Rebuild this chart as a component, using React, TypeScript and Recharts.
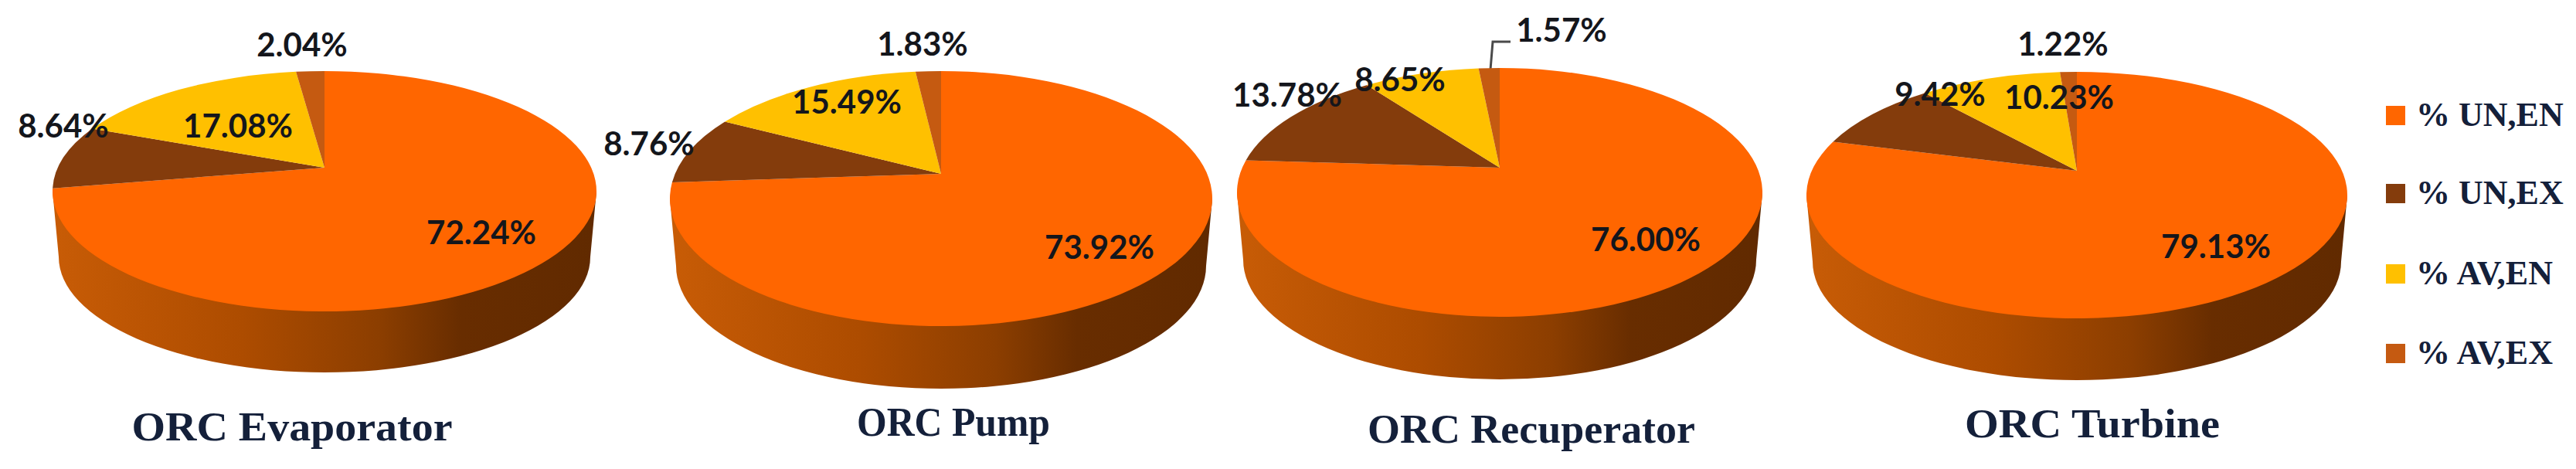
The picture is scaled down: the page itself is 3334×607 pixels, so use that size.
import { PieChart, Pie, Legend } from 'recharts';

const categories = ['% UN,EN', '% UN,EX', '% AV,EN', '% AV,EX'];
const evaporatorValues = [72.24, 8.64, 17.08, 2.04];
const pumpValues = [73.92, 8.76, 15.49, 1.83];
const recuperatorValues = [76.0, 13.78, 8.65, 1.57];
const turbineValues = [79.13, 9.42, 10.23, 1.22];

const sliceColors = ['#FF6600', '#843C0C', '#FFC000', '#C55A11'];
const legendTops = [137, 238, 342, 445];

// apex = where the slices meet, rimTop/rimBottom = top face extent, wallBottom = lowest point of the side
const pies = [
  {
    id: 'evaporator', title: 'ORC Evaporator', values: evaporatorValues,
    apexX: 420, apexY: 217, rx: 352, rimTop: 92, rimBottom: 403, wallBottom: 482,
    titleX: 378, titleY: 570, titleWidth: 415,
    labels: [[623, 300], [82, 162], [308, 162], [391, 57]],
  },
  {
    id: 'pump', title: 'ORC Pump', values: pumpValues,
    apexX: 1218, apexY: 225, rx: 351, rimTop: 92, rimBottom: 422, wallBottom: 503,
    titleX: 1234, titleY: 564, titleWidth: 250,
    labels: [[1423, 319], [840, 185], [1096, 131], [1194, 56]],
  },
  {
    id: 'recuperator', title: 'ORC Recuperator', values: recuperatorValues,
    apexX: 1941, apexY: 217, rx: 340, rimTop: 88, rimBottom: 410, wallBottom: 491,
    titleX: 1982, titleY: 573, titleWidth: 424,
    labels: [[2130, 309], [1666, 122], [1812, 102], [2021, 38]],
  },
  {
    id: 'turbine', title: 'ORC Turbine', values: turbineValues,
    apexX: 2688, apexY: 221, rx: 350, rimTop: 93, rimBottom: 412, wallBottom: 492,
    titleX: 2708, titleY: 566, titleWidth: 330,
    labels: [[2868, 318], [2511, 121], [2665, 125], [2670, 56]],
  },
];

const LABEL_FONT = 'Lato, sans-serif';
const SERIF_FONT = '"Liberation Serif", serif';

// perspective of a disc seen from above: the apex sits above the ellipse centre
const discOf = (pie: any) => {
  const up = pie.apexY - pie.rimTop;
  const down = pie.rimBottom - pie.apexY;
  const p = (down - up) / (down + up);
  return {
    p,
    ry: (up + down) / 2,
    ey: pie.apexY + (down - up) / 2,
    a: pie.rx * Math.sqrt(1 - p * p),
    b: up * (1 + p),
  };
};

const renderSlice = (pie: any) => (props: any) => {
  const { cx, cy, startAngle, endAngle, fill } = props;
  const d = discOf(pie);
  const rim = (angle: number) => {
    const t = ((90 - angle) * Math.PI) / 180;
    const u = Math.sin(t);
    const v = -Math.cos(t);
    const w = 1 - d.p * v;
    return [cx + (d.a * u) / w, cy + (d.b * v) / w];
  };
  const [x1, y1] = rim(startAngle);
  const [x2, y2] = rim(endAngle);
  const t1 = Math.atan2((y1 - d.ey) / d.ry, (x1 - cx) / pie.rx);
  const t2 = Math.atan2((y2 - d.ey) / d.ry, (x2 - cx) / pie.rx);
  const sweep = (t2 - t1 + Math.PI * 2) % (Math.PI * 2);
  const large = sweep > Math.PI ? 1 : 0;
  return (
    <path
      d={`M${cx},${cy}L${x1},${y1}A${pie.rx},${d.ry} 0 ${large} 1 ${x2},${y2}Z`}
      fill={fill}
    />
  );
};

const renderLabel = (pie: any) => (props: any) => {
  const { index, value } = props;
  const [x, y] = pie.labels[index];
  return (
    <text
      key={index}
      x={x}
      y={y}
      textAnchor="middle"
      dominantBaseline="central"
      fontFamily={LABEL_FONT}
      fontWeight={700}
      fontSize={42}
      fill="#14161c"
    >
      {`${value.toFixed(2)}%`}
    </text>
  );
};

const wallPath = (pie: any) => {
  const d = discOf(pie);
  const rx2 = pie.rx - 8;
  const ry2 = d.ry - 6;
  const ey2 = pie.wallBottom - ry2;
  const cx = pie.apexX;
  return `M${cx - pie.rx},${d.ey}L${cx - rx2},${ey2}A${rx2},${ry2} 0 0 0 ${cx + rx2},${ey2}L${cx + pie.rx},${d.ey}Z`;
};

const renderLegend = () => (
  <div style={{ position: 'relative', width: 3334, height: 607 }}>
    {categories.map((name, i) => (
      <div key={name}>
        <div
          style={{
            position: 'absolute',
            left: 3088,
            top: legendTops[i],
            width: 25,
            height: 25,
            background: sliceColors[i],
          }}
        />
        <div
          style={{
            position: 'absolute',
            left: 3127,
            top: legendTops[i] - 14,
            lineHeight: '52px',
            fontFamily: SERIF_FONT,
            fontWeight: 700,
            fontSize: 44,
            color: '#14203a',
            whiteSpace: 'nowrap',
          }}
        >
          {name}
        </div>
      </div>
    ))}
  </div>
);

export default function App() {
  return (
    <div style={{ position: 'absolute', left: 0, top: 0, width: 3334, height: 607, background: '#fff' }}>
      <PieChart width={3334} height={607} margin={{ top: 0, right: 0, bottom: 0, left: 0 }}>
        <defs>
          {pies.map((pie) => (
            <linearGradient
              key={pie.id}
              id={`wall-${pie.id}`}
              gradientUnits="userSpaceOnUse"
              x1={pie.apexX - pie.rx}
              x2={pie.apexX + pie.rx}
              y1={0}
              y2={0}
            >
              <stop offset="0" stopColor="#C85C06" />
              <stop offset="0.35" stopColor="#AD4C00" />
              <stop offset="0.6" stopColor="#8C3E00" />
              <stop offset="0.75" stopColor="#682D00" />
              <stop offset="1" stopColor="#612A00" />
            </linearGradient>
          ))}
        </defs>
        {pies.map((pie) => (
          <path key={pie.id} d={wallPath(pie)} fill={`url(#wall-${pie.id})`} />
        ))}
        {pies.map((pie) => (
          <Pie
            key={pie.id}
            data={categories.map((name, i) => ({ name, value: pie.values[i], fill: sliceColors[i] }))}
            dataKey="value"
            nameKey="name"
            cx={pie.apexX}
            cy={pie.apexY}
            outerRadius={pie.rx}
            startAngle={90}
            endAngle={-270}
            stroke="none"
            shape={renderSlice(pie)}
            label={renderLabel(pie)}
            labelLine={false}
            isAnimationActive={false}
          />
        ))}
        {pies.map((pie) => (
          <text
            key={pie.id}
            x={pie.titleX}
            y={pie.titleY}
            textAnchor="middle"
            textLength={pie.titleWidth}
            lengthAdjust="spacingAndGlyphs"
            fontFamily={SERIF_FONT}
            fontWeight={700}
            fontSize={52}
            fill="#14203a"
          >
            {pie.title}
          </text>
        ))}
        <path d="M1929,90L1932,54L1955,54" fill="none" stroke="#4a4a4a" strokeWidth={3} />
        <Legend
          content={renderLegend}
          wrapperStyle={{ position: 'absolute', left: 0, top: 0, width: 3334, height: 607, pointerEvents: 'none' }}
        />
      </PieChart>
    </div>
  );
}
